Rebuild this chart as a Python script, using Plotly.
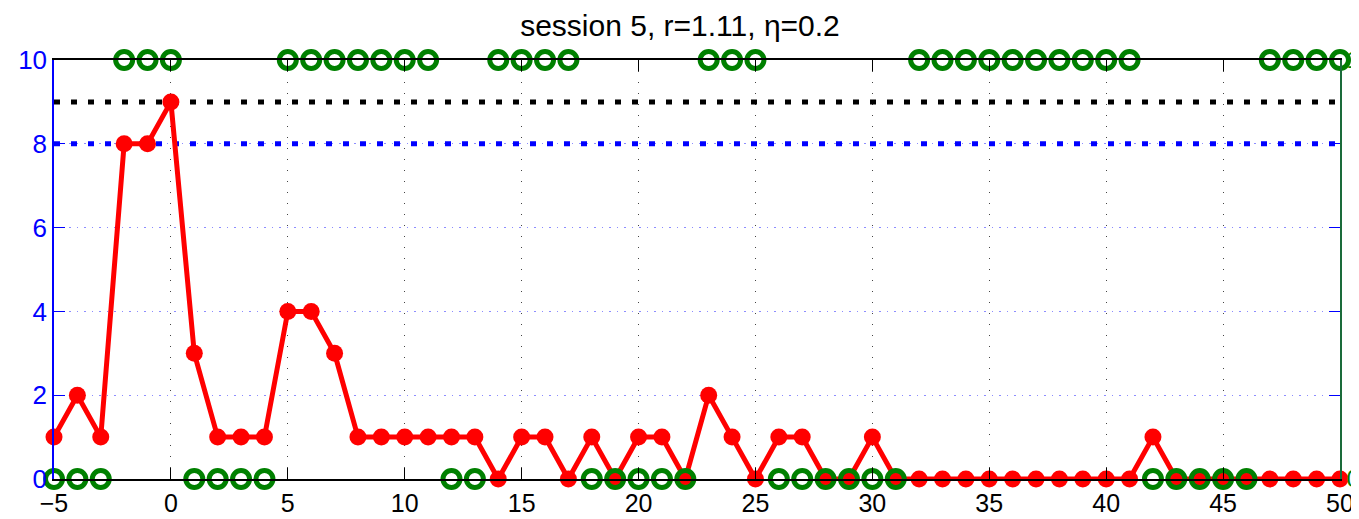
import plotly.graph_objects as go

trial = list(range(-5, 51))
red_values = [1, 2, 1, 8, 8, 9, 3, 1, 1, 1, 4, 4, 3, 1, 1, 1, 1, 1, 1, 0,
              1, 1, 0, 1, 0, 1, 1, 0, 2, 1, 0, 1, 1, 0, 0, 1, 0,
              0, 0, 0, 0, 0, 0, 0, 0, 0, 0, 1, 0, 0, 0, 0, 0, 0, 0, 0]
green_values = [0, 0, 0, 1, 1, 1, 0, 0, 0, 0, 1, 1, 1, 1, 1, 1, 1, 0, 0, 1,
                1, 1, 1, 0, 0, 0, 0, 0, 1, 1, 1, 0, 0, 0, 0, 0, 0,
                1, 1, 1, 1, 1, 1, 1, 1, 1, 1, 0, 0, 0, 0, 0, 1, 1, 1, 1]
black_level = 9
blue_level = 8
title_text = "session 5, r=1.11, η=0.2"
x_ticks = list(range(-5, 51, 5))
y_ticks = [0, 2, 4, 6, 8, 10]

FONT = "Liberation Sans, Arial, sans-serif"

fig = go.Figure()
fig.add_trace(go.Scatter(x=[-5, 50], y=[black_level, black_level], mode="lines",
                         line=dict(color="black", width=5, dash="6px,11px"),
                         showlegend=False, hoverinfo="skip"))
fig.add_trace(go.Scatter(x=[-5, 50], y=[blue_level, blue_level], mode="lines",
                         line=dict(color="blue", width=5, dash="6px,11px"),
                         showlegend=False, hoverinfo="skip"))
fig.add_trace(go.Scatter(x=trial, y=red_values, mode="lines+markers",
                         line=dict(color="red", width=5),
                         marker=dict(color="red", size=17),
                         cliponaxis=False, showlegend=False))
fig.add_trace(go.Scatter(x=trial, y=green_values, mode="markers", yaxis="y2",
                         marker=dict(symbol="circle-open", color="green", size=17,
                                     line=dict(width=5, color="green")),
                         cliponaxis=False, showlegend=False))

# the page body has an 8px margin, so the figure is 8px smaller and margins shifted
fig.update_layout(
    width=1351, height=511,
    margin=dict(l=46, r=19, t=52, b=40, autoexpand=False),
    paper_bgcolor="white", plot_bgcolor="white",
    title=dict(text=title_text, x=0.4974, xanchor="center", y=0.965, yanchor="middle",
               font=dict(family=FONT, size=30, color="black")),
    font=dict(family=FONT, size=25, color="black"),
    xaxis=dict(range=[-5, 50], tickvals=x_ticks, ticks="inside", ticklen=11,
               tickcolor="black", linecolor="black", linewidth=1.5, showline=True,
               mirror="ticks", showgrid=True, gridcolor="#444444", griddash="1px,10px",
               gridwidth=1, zeroline=False, automargin=False, ticklabelstandoff=1,
               tickfont=dict(color="black", size=25)),
    yaxis=dict(range=[0, 10], tickvals=y_ticks, ticks="inside", ticklen=11,
               tickcolor="blue", linecolor="blue", linewidth=1.5, showline=True,
               mirror="ticks", showgrid=True, gridcolor="#8c8cff", griddash="1.5px,6px",
               gridwidth=1, zeroline=False, automargin=False,
               tickfont=dict(color="blue", size=26)),
    yaxis2=dict(range=[0, 1], tickvals=[0, 1], overlaying="y", side="right",
                showline=True, linecolor="#1a6b3a", linewidth=1.5, ticks="",
                showgrid=False, zeroline=False, ticklabelstandoff=0, automargin=False,
                tickfont=dict(color="green", size=24)),
)

fig.write_html("out.html")
